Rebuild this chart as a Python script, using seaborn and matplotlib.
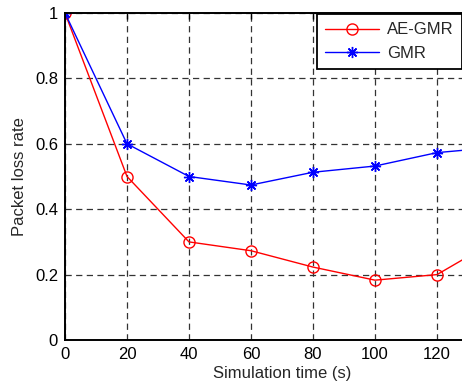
import numpy as np
import pandas as pd
import seaborn as sns
import matplotlib
matplotlib.use("Agg")
import matplotlib.pyplot as plt

# dati
tempo = [0, 20, 40, 60, 80, 100, 120, 140]
ae_gmr = [1.0, 0.50, 0.30, 0.273, 0.223, 0.183, 0.20, 0.31]
gmr = [1.0, 0.60, 0.50, 0.474, 0.513, 0.532, 0.573, 0.59]
x_ticks = [0, 20, 40, 60, 80, 100, 120]
y_ticks = [0, 0.2, 0.4, 0.6, 0.8, 1]
y_tick_labels = ["0", "0.2", "0.4", "0.6", "0.8", "1"]

sns.set_style("white")
plt.rcParams["font.family"] = ["Liberation Sans", "DejaVu Sans"]

fig = plt.figure(figsize=(4.62, 3.87), dpi=100)
W, H = 462, 387
# l'asse continua oltre il bordo destro (immagine ritagliata)
ax = fig.add_axes([65 / W, (H - 340) / H, 434 / W, 327 / H])

sns.lineplot(x=tempo, y=ae_gmr, ax=ax, color="red", marker="o", markersize=8,
             markerfacecolor="none", markeredgecolor="red", markeredgewidth=1,
             linewidth=1, label="AE-GMR", legend=False)
sns.lineplot(x=tempo, y=gmr, ax=ax, color="blue", marker=(8, 2, 0), markersize=8,
             markerfacecolor="blue", markeredgecolor="blue", markeredgewidth=1,
             linewidth=1, label="GMR", legend=False)

ax.set_xlim(0, 140)
ax.set_ylim(0, 1)
ax.set_xticks(x_ticks)
ax.set_yticks(y_ticks)
ax.set_yticklabels(y_tick_labels)
ax.grid(True, linestyle=(0, (5, 3.5)), color="#333333", linewidth=0.9)
ax.set_axisbelow(True)
for s in ax.spines.values():
    s.set_color("black")
    s.set_linewidth(1.4)
ax.tick_params(direction="in", top=True, right=True, length=4, width=1,
               labelsize=12, pad=5, colors="black")
ax.set_xlabel("Simulation time (s)", fontsize=12, labelpad=3)
ax.set_ylabel("Packet loss rate", fontsize=12, labelpad=6)

handles, labels = ax.get_legend_handles_labels()
leg = fig.legend(handles, labels, loc="upper right",
                 bbox_to_anchor=(1.0, (H - 14) / H), fontsize=12,
                 frameon=True, fancybox=False, framealpha=1,
                 edgecolor="black", borderpad=0.5, handlelength=3.2,
                 handletextpad=0.5, labelspacing=0.5, borderaxespad=0)
leg.get_frame().set_linewidth(1.3)

fig.savefig("out.png", dpi=100)
